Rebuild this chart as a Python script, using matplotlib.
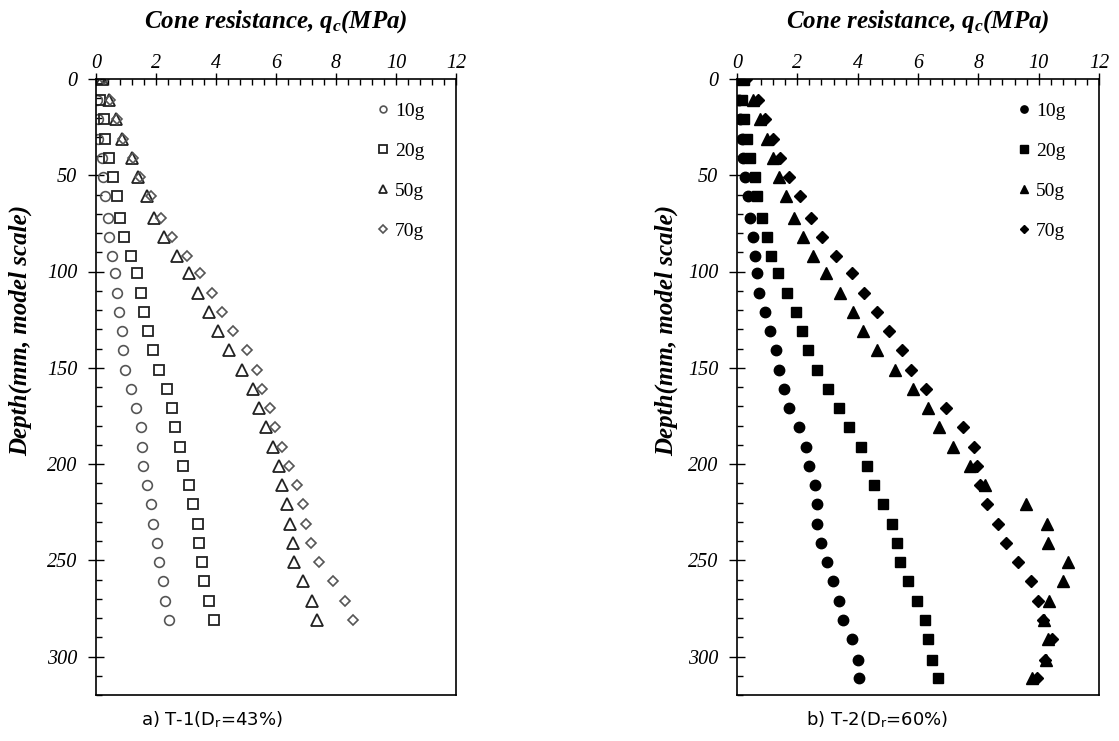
import matplotlib
matplotlib.use('Agg')
import matplotlib.pyplot as plt
from matplotlib.ticker import MultipleLocator
from matplotlib.font_manager import FontProperties

plt.rcParams['font.family'] = 'Liberation Serif'
plt.rcParams['mathtext.fontset'] = 'custom'
plt.rcParams['mathtext.it'] = 'Liberation Serif:italic:bold'
plt.rcParams['mathtext.rm'] = 'Liberation Serif:italic:bold'
plt.rcParams['mathtext.sf'] = 'Liberation Sans Narrow'

# depth (mm, model scale)
depth_a = [0, 11, 21, 31, 41, 51, 61, 72, 82, 92, 101, 111, 121, 131, 141, 151,
           161, 171, 181, 191, 201, 211, 221, 231, 241, 251, 261, 271, 281]
depth_b = depth_a + [291, 302, 311]

# T-1 (Dr=43%) cone resistance, MPa
a_10g = [0.05, 0.02, 0.05, 0.05, 0.19, 0.24, 0.30, 0.41, 0.43, 0.52, 0.63, 0.71, 0.77, 0.86, 0.89,
         0.97, 1.16, 1.32, 1.49, 1.52, 1.58, 1.71, 1.82, 1.91, 2.04, 2.11, 2.24, 2.30, 2.42]
a_20g = [0.10, 0.13, 0.27, 0.30, 0.44, 0.56, 0.69, 0.80, 0.93, 1.16, 1.36, 1.49, 1.61, 1.74, 1.91,
         2.11, 2.38, 2.54, 2.63, 2.80, 2.89, 3.10, 3.22, 3.39, 3.44, 3.52, 3.61, 3.78, 3.94]
a_50g = [0.20, 0.44, 0.67, 0.87, 1.19, 1.40, 1.71, 1.94, 2.28, 2.69, 3.11, 3.41, 3.77, 4.06, 4.44,
         4.88, 5.24, 5.43, 5.67, 5.91, 6.10, 6.19, 6.36, 6.48, 6.57, 6.61, 6.91, 7.21, 7.38]
a_70g = [0.25, 0.46, 0.70, 0.90, 1.22, 1.45, 1.83, 2.16, 2.52, 3.02, 3.47, 3.86, 4.19, 4.56, 5.02,
         5.38, 5.52, 5.80, 5.97, 6.21, 6.43, 6.69, 6.91, 6.99, 7.16, 7.44, 7.89, 8.30, 8.58]

# T-2 (Dr=60%) cone resistance, MPa
b_10g = [0.05, 0.05, 0.10, 0.15, 0.19, 0.27, 0.35, 0.43, 0.54, 0.60, 0.67, 0.74, 0.93, 1.09, 1.28, 1.39,
         1.57, 1.73, 2.06, 2.29, 2.40, 2.59, 2.64, 2.64, 2.78, 2.99, 3.17, 3.39, 3.50, 3.80, 4.02, 4.05]
b_20g = [0.05, 0.15, 0.24, 0.32, 0.43, 0.60, 0.67, 0.84, 0.98, 1.13, 1.35, 1.65, 1.95, 2.16, 2.36, 2.66,
         3.01, 3.39, 3.72, 4.10, 4.32, 4.55, 4.85, 5.15, 5.29, 5.40, 5.68, 5.96, 6.23, 6.34, 6.47, 6.67]
b_50g = [0.20, 0.54, 0.76, 0.98, 1.18, 1.39, 1.62, 1.89, 2.18, 2.53, 2.94, 3.41, 3.83, 4.17, 4.63, 5.24,
         5.82, 6.32, 6.70, 7.17, 7.72, 8.22, 9.58, 10.26, 10.32, 10.98, 10.80, 10.34, 10.19, 10.30, 10.24, 9.79]
b_70g = [0.30, 0.70, 0.93, 1.20, 1.43, 1.73, 2.09, 2.44, 2.83, 3.27, 3.80, 4.21, 4.63, 5.05, 5.48, 5.77,
         6.25, 6.93, 7.48, 7.86, 7.96, 8.05, 8.30, 8.66, 8.91, 9.30, 9.74, 9.97, 10.15, 10.43, 10.20, 9.93]

labels = ['10g', '20g', '50g', '70g']
x_ticks = [0, 2, 4, 6, 8, 10, 12]
y_ticks = [0, 50, 100, 150, 200, 250, 300]

tick_font = FontProperties(family='Liberation Serif', style='italic', size=14.5)

fig = plt.figure(figsize=(11.19, 7.41), dpi=100)
W, H = 1119, 741
ax1 = fig.add_axes([96 / W, 1 - 695 / H, 360 / W, 616 / H])
ax2 = fig.add_axes([737 / W, 1 - 695 / H, 362 / W, 616 / H])

# open markers (left)
ax1.plot(a_10g, depth_a, 'o', ms=7, mfc='none', mec='#555555', mew=1.2, label=labels[0])
ax1.plot(a_20g, depth_a, 's', ms=7.5, mfc='none', mec='#222222', mew=1.3, label=labels[1])
ax1.plot(a_50g, depth_a, '^', ms=8.5, mfc='none', mec='#222222', mew=1.3, label=labels[2])
ax1.plot(a_70g, depth_a, 'D', ms=5.5, mfc='none', mec='#555555', mew=1.2, label=labels[3])

# solid markers (right)
ax2.plot(b_10g, depth_b, 'o', ms=7.5, color='black', label=labels[0])
ax2.plot(b_20g, depth_b, 's', ms=7.5, color='black', label=labels[1])
ax2.plot(b_50g, depth_b, '^', ms=8.5, color='black', label=labels[2])
ax2.plot(b_70g, depth_b, 'D', ms=5.8, color='black', label=labels[3])

for ax, lx in [(ax1, 0.782), (ax2, 0.778)]:
    ax.xaxis.tick_top()
    ax.set_xticks(x_ticks)
    ax.set_yticks(y_ticks)
    ax.xaxis.set_minor_locator(MultipleLocator(0.4))
    ax.yaxis.set_minor_locator(MultipleLocator(10))
    ax.set_xlim(0, 12)
    ax.set_ylim(320, 0)
    ax.tick_params(axis='x', which='major', direction='inout', length=9, width=1, pad=0,
                   top=True, bottom=False)
    ax.tick_params(axis='x', which='minor', direction='in', length=4, width=1, top=True, bottom=False)
    ax.tick_params(axis='y', which='major', direction='inout', length=11, width=1, pad=8, right=False)
    ax.tick_params(axis='y', which='minor', direction='in', length=4, width=1, right=False)
    for sp in ax.spines.values():
        sp.set_linewidth(1.2)
    ax.legend(loc='upper left', bbox_to_anchor=(lx, 0.962), frameon=False,
              prop={'family': 'Liberation Serif', 'size': 14},
              handlelength=0.6, handletextpad=0.3, labelspacing=1.15, markerscale=0.7,
              borderpad=0, borderaxespad=0)

for cx in [276, 918]:
    fig.text(cx / W, 1 - 22 / H, 'Cone resistance, $q_c$(MPa)', ha='center', va='center',
             fontsize=18, fontweight='bold', fontstyle='italic')
for yx in [20, 666]:
    fig.text(yx / W, 1 - 330 / H, 'Depth(mm, model scale)', rotation=90, ha='center', va='center',
             fontsize=18, fontweight='bold', fontstyle='italic')

fig.text(212 / W, 1 - 720 / H, r'a) T-1(D$_\mathsf{r}$=43%)', ha='center', va='center',
         fontsize=13, family='Liberation Sans Narrow')
fig.text(877 / W, 1 - 720 / H, r'b) T-2(D$_\mathsf{r}$=60%)', ha='center', va='center',
         fontsize=13, family='Liberation Sans Narrow')

# italic tick labels, applied once the ticks exist
fig.canvas.draw()
for ax in (ax1, ax2):
    for t in ax.xaxis.get_major_ticks() + ax.yaxis.get_major_ticks():
        t.label1.set_fontproperties(tick_font)
        t.label2.set_fontproperties(tick_font)

fig.savefig('out.png', dpi=100)
